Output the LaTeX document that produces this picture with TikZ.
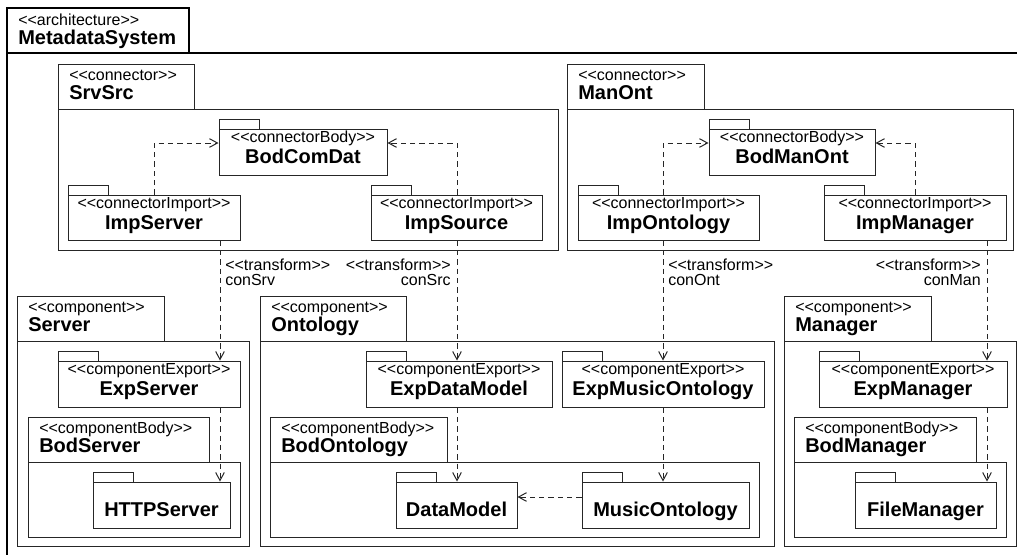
\documentclass[tikz,border=0pt]{standalone}
\usepackage{fontspec}
\setmainfont{Liberation Sans}
\usetikzlibrary{arrows.meta,calc,fit}

% stereotype brackets; the zero kern keeps "<<" from turning into a guillemet
\newcommand{\stype}[1]{<\kern0pt<#1>\kern0pt>}

\tikzset{
  frame/.style={draw=black!85, line width=0.75pt},
  outer/.style={draw=black, line width=1.5pt},
  box/.style={draw=black!85, line width=0.75pt, inner sep=0pt, fit={#1}},
  stereo/.style={font=\fontsize{12}{14}\selectfont, anchor=base, inner sep=0pt},
  title/.style={font=\fontsize{15}{18}\selectfont\bfseries, anchor=base, inner sep=0pt},
  dep/.style={draw=black!85, line width=0.75pt, dash pattern=on 4pt off 3pt,
    -{Straight Barb[length=6pt,width=6.5pt]}},
}

% package with a large name tab: name, x1, tab top, tab right, tab bottom, x2, bottom, stereotype, title
\newcommand{\tabpkg}[9]{%
  \draw[frame] (#2,#3) rectangle (#4,#5);
  \node[box={(#2,#5) (#6,#7)}] (#1) {};
  \node[stereo, anchor=base west] (#1-s) at (#2+11,#3+16) {\stype{#8}};
  \node[title, anchor=base west] (#1-t) at (#2+11,#3+35) {#9};
}
% package with a small tab: name, x1, top, x2, bottom, stereotype, title
\newcommand{\boxpkg}[7]{%
  \draw[frame] (#2,#3-10) rectangle (#2+40,#3);
  \node[box={(#2,#3) (#4,#5)}] (#1) {};
  \node[stereo] (#1-s) at ($(#1.north)+(0,14)$) {\stype{#6}};
  \node[title] (#1-t) at ($(#1.north)+(0,35)$) {#7};
}
% package with a small tab and a name only
\newcommand{\plainpkg}[6]{%
  \draw[frame] (#2,#3-10) rectangle (#2+40,#3);
  \node[box={(#2,#3) (#4,#5)}] (#1) {};
  \node[title] (#1-t) at ($(#1.north)+(0,35)$) {#6};
}

\begin{document}
\begin{tikzpicture}[x=0.75pt,y=-0.75pt]
\useasboundingbox (0,0) rectangle (1017,554);
\clip (0,0) rectangle (1017,554);

% architecture frame
\draw[outer] (7,8) rectangle (189,53);
\draw[outer] (7,580) -- (7,53) -- (1040,53);
\node[stereo, anchor=base west] (arch-s) at (18,25) {\stype{architecture}};
\node[title, anchor=base west] (arch-t) at (18,44) {MetadataSystem};

% connectors
\tabpkg{SrvSrc}{58}{64}{194}{109}{558}{250}{connector}{SrvSrc}
\tabpkg{ManOnt}{567}{64}{704}{109}{1013}{250}{connector}{ManOnt}
\boxpkg{BodComDat}{219}{129}{387}{175}{connectorBody}{BodComDat}
\boxpkg{ImpServer}{68}{195}{240}{240}{connectorImport}{ImpServer}
\boxpkg{ImpSource}{371}{195}{542}{240}{connectorImport}{ImpSource}
\boxpkg{BodManOnt}{709}{129}{875}{175}{connectorBody}{BodManOnt}
\boxpkg{ImpOntology}{578}{195}{759}{240}{connectorImport}{ImpOntology}
\boxpkg{ImpManager}{824}{195}{1006}{240}{connectorImport}{ImpManager}

% components
\tabpkg{Server}{17}{296}{164}{341}{249}{546}{component}{Server}
\tabpkg{Ontology}{260}{296}{406}{341}{774}{546}{component}{Ontology}
\tabpkg{Manager}{784}{296}{931}{341}{1016}{546}{component}{Manager}

\boxpkg{ExpServer}{58}{361}{240}{407}{componentExport}{ExpServer}
\boxpkg{ExpDataModel}{366}{361}{552}{407}{componentExport}{ExpDataModel}
\boxpkg{ExpMusicOntology}{562}{361}{764}{407}{componentExport}{ExpMusicOntology}
\boxpkg{ExpManager}{819}{361}{1007}{407}{componentExport}{ExpManager}

\tabpkg{BodServer}{28}{417}{209}{462}{240}{537}{componentBody}{BodServer}
\tabpkg{BodOntology}{270}{417}{447}{462}{759}{537}{componentBody}{BodOntology}
\tabpkg{BodManager}{794}{417}{976}{462}{1006}{537}{componentBody}{BodManager}

\plainpkg{HTTPServer}{93}{482}{230}{528}{HTTPServer}
\plainpkg{DataModel}{396}{482}{517}{528}{DataModel}
\plainpkg{MusicOntology}{582}{482}{749}{528}{MusicOntology}
\plainpkg{FileManager}{855}{482}{996}{528}{FileManager}

% routing points of the dependencies
\coordinate (kSrv) at (154,143);
\coordinate (kSrc) at (457,143);
\coordinate (kOnt) at (663,143);
\coordinate (kMan) at (915,143);
\coordinate (tSrv) at (220,0);
\coordinate (tSrc) at (457,0);
\coordinate (tOnt) at (663,0);
\coordinate (tMan) at (987,0);
\coordinate (kMO) at (0,497);

% imports into the connector bodies
\draw[dep] (ImpServer.north -| kSrv) |- (BodComDat.west |- kSrv);
\draw[dep] (ImpSource.north -| kSrc) |- (BodComDat.east |- kSrc);
\draw[dep] (ImpOntology.north -| kOnt) |- (BodManOnt.west |- kOnt);
\draw[dep] (ImpManager.north -| kMan) |- (BodManOnt.east |- kMan);

% transform chains down into the components
\foreach \a/\b/\c/\t in {ImpServer/ExpServer/HTTPServer/tSrv,
                         ImpSource/ExpDataModel/DataModel/tSrc,
                         ImpOntology/ExpMusicOntology/MusicOntology/tOnt,
                         ImpManager/ExpManager/FileManager/tMan} {
  \draw[dep] (\a.south -| \t) -- (\b.north -| \t);
  \draw[dep] (\b.south -| \t) -- (\c.north -| \t);
}
\draw[dep] (MusicOntology.west |- kMO) -- (DataModel.east |- kMO);

% transform labels
\node[stereo, anchor=base west] (trSrv-s) at (225,270) {\stype{transform}};
\node[stereo, anchor=base west] (trSrv-t) at (225,285) {conSrv};
\node[stereo, anchor=base east] (trSrc-s) at (451,270) {\stype{transform}};
\node[stereo, anchor=base east] (trSrc-t) at (451,285) {conSrc};
\node[stereo, anchor=base west] (trOnt-s) at (668,270) {\stype{transform}};
\node[stereo, anchor=base west] (trOnt-t) at (668,285) {conOnt};
\node[stereo, anchor=base east] (trMan-s) at (981,270) {\stype{transform}};
\node[stereo, anchor=base east] (trMan-t) at (981,285) {conMan};
\end{tikzpicture}
\end{document}
